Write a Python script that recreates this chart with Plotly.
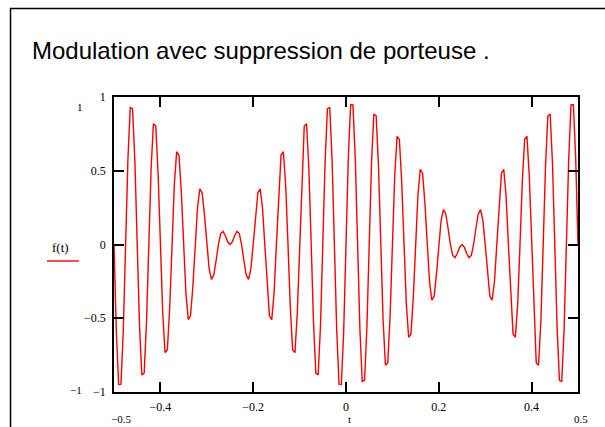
import numpy as np
import plotly.graph_objects as go

# ---- data (t from -0.5 to 0.5 by 0.005) ----
f_values = [
    0, -0.5875, -0.9492, -0.9468, -0.5832, 0, 0.5774, 0.9282, 0.9212, 0.5644,
    0, -0.5530, -0.8843, -0.8728, -0.5318, 0, 0.5151, 0.8186, 0.8030, 0.4862,
    0, -0.4644, -0.7328, -0.7134, -0.4285, 0, 0.4024, 0.6289, 0.6062, 0.3603,
    0, -0.3304, -0.5096, -0.4841, -0.2832, 0, 0.2503, 0.3777, 0.3501, 0.1991,
    0, -0.1640, -0.2365, -0.2075, -0.1101, 0, 0.0737, 0.0895, 0.0597, 0.0185,
    0, 0.0185, 0.0597, 0.0895, 0.0737, 0, -0.1101, -0.2075, -0.2365, -0.1640,
    0, 0.1991, 0.3501, 0.3777, 0.2503, 0, -0.2832, -0.4841, -0.5096, -0.3304,
    0, 0.3603, 0.6062, 0.6289, 0.4024, 0, -0.4285, -0.7134, -0.7328, -0.4644,
    0, 0.4862, 0.8030, 0.8186, 0.5151, 0, -0.5318, -0.8728, -0.8843, -0.5530,
    0, 0.5644, 0.9212, 0.9282, 0.5774, 0, -0.5832, -0.9468, -0.9492, -0.5875,
    0, 0.5875, 0.9492, 0.9468, 0.5832, 0, -0.5774, -0.9282, -0.9212, -0.5644,
    0, 0.5530, 0.8843, 0.8728, 0.5318, 0, -0.5151, -0.8186, -0.8030, -0.4862,
    0, 0.4644, 0.7328, 0.7134, 0.4285, 0, -0.4024, -0.6289, -0.6062, -0.3603,
    0, 0.3304, 0.5096, 0.4841, 0.2832, 0, -0.2503, -0.3777, -0.3501, -0.1991,
    0, 0.1640, 0.2365, 0.2075, 0.1101, 0, -0.0737, -0.0895, -0.0597, -0.0185,
    0, -0.0185, -0.0597, -0.0895, -0.0737, 0, 0.1101, 0.2075, 0.2365, 0.1640,
    0, -0.1991, -0.3501, -0.3777, -0.2503, 0, 0.2832, 0.4841, 0.5096, 0.3304,
    0, -0.3603, -0.6062, -0.6289, -0.4024, 0, 0.4285, 0.7134, 0.7328, 0.4644,
    0, -0.4862, -0.8030, -0.8186, -0.5151, 0, 0.5318, 0.8728, 0.8843, 0.5530,
    0, -0.5644, -0.9212, -0.9282, -0.5774, 0, 0.5832, 0.9468, 0.9492, 0.5875,
    0,
]
t_values = np.round(np.linspace(-0.5, 0.5, len(f_values)), 3)

x_tickvals = [-0.4, -0.2, 0, 0.2, 0.4]
x_ticktext = ["\u22120.4", "\u22120.2", "0", "0.2", "0.4"]
y_tickvals = [-1, -0.5, 0, 0.5, 1]
y_ticktext = ["\u22121", "\u22120.5", "0", "0.5", "1"]

title_text = "Modulation avec suppression de porteuse ."
legend_text = "f(t)"
x_name = "t"
x_min_label, x_max_label = "\u22120.5", "0.5"
y_min_label, y_max_label = "\u22121", "1"

# ---- layout geometry (pixels) ----
W, H = 605, 427
L, R, T, B = 114, 578, 97, 392
PW, PH = R - L, B - T


def px(x):
    return (x - L) / PW


def py(y):
    return (B - y) / PH


RED = "#ff0000"
SERIF = "Liberation Serif, Times New Roman, serif"
SANS = "Liberation Sans, Arial, sans-serif"

fig = go.Figure()
fig.add_trace(go.Scatter(
    x=t_values, y=f_values, mode="lines",
    line=dict(color=RED, width=1.4),
    showlegend=False, hoverinfo="skip",
))

axis_common = dict(
    showline=True, linecolor="black", linewidth=1.5, mirror="ticks",
    ticks="inside", ticklen=10, tickwidth=1.5, tickcolor="black",
    showgrid=False, zeroline=False,
    tickfont=dict(family=SERIF, size=12, color="black"),
)

fig.update_xaxes(range=[-0.5, 0.5], tickvals=x_tickvals, ticktext=x_ticktext,
                 ticklabelstandoff=3, **axis_common)
fig.update_yaxes(range=[-1, 1], tickvals=y_tickvals, ticktext=y_ticktext,
                 ticklabelstandoff=4, **axis_common)

shapes = [
    # outer frame (cut by window edges on right and bottom)
    dict(type="rect", xref="paper", yref="paper",
         x0=px(10.5), x1=px(720), y0=py(8.5), y1=py(520),
         line=dict(color="black", width=1.5), layer="above"),
    # legend line
    dict(type="line", xref="paper", yref="paper",
         x0=px(47), x1=px(79), y0=py(261), y1=py(261),
         line=dict(color=RED, width=1.4)),
]

annotations = [
    dict(text=title_text, x=px(30.5), y=py(50), xanchor="left", yanchor="middle",
         font=dict(family=SANS, size=24, color="black")),
    dict(text=legend_text, x=px(60), y=py(247), xanchor="center", yanchor="middle",
         font=dict(family=SERIF, size=13, color="black")),
    dict(text=y_max_label, x=px(80), y=py(107), xanchor="center", yanchor="middle",
         font=dict(family=SERIF, size=11, color="black")),
    dict(text=y_min_label, x=px(76), y=py(390), xanchor="center", yanchor="middle",
         font=dict(family=SERIF, size=11, color="black")),
    dict(text=x_min_label, x=px(121), y=py(419), xanchor="center", yanchor="middle",
         font=dict(family=SERIF, size=11, color="black")),
    dict(text=x_name, x=px(349), y=py(419), xanchor="center", yanchor="middle",
         font=dict(family=SERIF, size=11, color="black")),
    dict(text=x_max_label, x=px(581), y=py(419), xanchor="center", yanchor="middle",
         font=dict(family=SERIF, size=11, color="black")),
]
for a in annotations:
    a.update(xref="paper", yref="paper", showarrow=False, borderpad=0)

fig.update_layout(
    width=W, height=H, autosize=False,
    margin=dict(l=L, r=W - R, t=T, b=H - B),
    paper_bgcolor="white", plot_bgcolor="white",
    shapes=shapes, annotations=annotations,
)

fig.write_html("out.html")
